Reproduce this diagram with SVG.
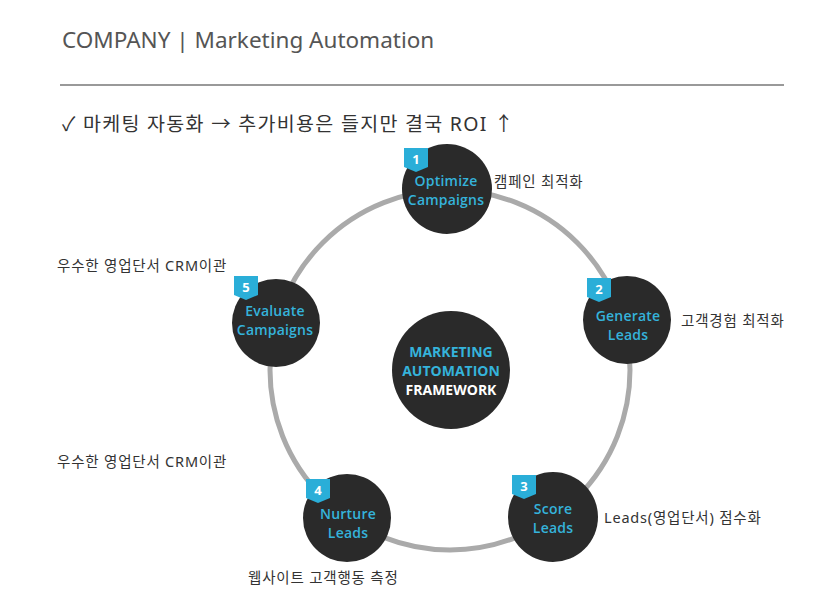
<svg xmlns="http://www.w3.org/2000/svg" width="835" height="600" viewBox="0 0 835 600">
<style>
.title{font-family:"Noto Sans","Noto Sans CJK KR",sans-serif;font-size:22.5px;fill:#555}
.sub{font-family:"Noto Sans","Noto Sans CJK KR",sans-serif;font-size:19.5px;letter-spacing:1.3px;fill:#333}
.note{font-family:"Noto Sans","Noto Sans CJK KR",sans-serif;font-size:14.5px;letter-spacing:0.8px;fill:#333}
.disc{fill:#2a2a2a}
.lbl{font-family:"Open Sans","Noto Sans",sans-serif;font-size:14px;font-weight:600;letter-spacing:0.2px;fill:#35b3db;text-anchor:middle}
.num{font-family:"Open Sans","Noto Sans",sans-serif;font-size:13px;font-weight:700;fill:#fff;text-anchor:middle}
.badge{fill:#2aaed8}
.ctr{font-family:"Open Sans","Noto Sans",sans-serif;font-size:14px;font-weight:700;text-anchor:middle}
</style>
<defs>
<path id="bdg" d="M0,0 H24 V19 L12,24 L0,19 Z"/>
</defs>
<rect width="835" height="600" fill="#fff"/>
<text class="title" x="62" y="48">COMPANY | Marketing Automation</text>
<line x1="60" y1="85" x2="784" y2="85" stroke="#999" stroke-width="2"/>
<text class="sub" x="62" y="131">✓ 마케팅 자동화 → 추가비용은 들지만 결국 ROI ↑</text>
<g id="connectors">
<circle cx="450" cy="370" r="180" fill="none" stroke="#aaa" stroke-width="5"/>
</g>
<g id="center">
<circle class="disc" cx="451" cy="370" r="59"/>
<text class="ctr" x="451" y="357"><tspan fill="#35b3db">MARKETING</tspan><tspan x="451" dy="19" fill="#35b3db">AUTOMATION</tspan><tspan x="451" dy="19" fill="#fff">FRAMEWORK</tspan></text>
</g>
<g id="node1">
<circle class="disc" cx="447" cy="189" r="45"/>
<use href="#bdg" x="404" y="148" class="badge"/>
<text class="num" x="416" y="164">1</text>
<text class="lbl" x="446" y="186">Optimize<tspan x="446" dy="18.5">Campaigns</tspan></text>
</g>
<g id="node2">
<circle class="disc" cx="627" cy="320" r="44"/>
<use href="#bdg" x="587" y="278" class="badge"/>
<text class="num" x="599" y="294">2</text>
<text class="lbl" x="628" y="321">Generate<tspan x="628" dy="18.5">Leads</tspan></text>
</g>
<g id="node3">
<circle class="disc" cx="553" cy="517" r="45"/>
<use href="#bdg" x="512" y="475" class="badge"/>
<text class="num" x="524" y="491">3</text>
<text class="lbl" x="553" y="514">Score<tspan x="553" dy="18.5">Leads</tspan></text>
</g>
<g id="node4">
<circle class="disc" cx="347" cy="518" r="44"/>
<use href="#bdg" x="306" y="479" class="badge"/>
<text class="num" x="318" y="495">4</text>
<text class="lbl" x="348" y="519">Nurture<tspan x="348" dy="18.5">Leads</tspan></text>
</g>
<g id="node5">
<circle class="disc" cx="276" cy="323" r="44"/>
<use href="#bdg" x="234" y="276" class="badge"/>
<text class="num" x="246" y="292">5</text>
<text class="lbl" x="275" y="316">Evaluate<tspan x="275" dy="18.5">Campaigns</tspan></text>
</g>
<g id="notes">
<text class="note" x="494" y="187">캠페인 최적화</text>
<text class="note" x="681" y="326">고객경험 최적화</text>
<text class="note" x="604" y="523">Leads(영업단서) 점수화</text>
<text class="note" x="248" y="583">웹사이트 고객행동 측정</text>
<text class="note" x="57" y="271">우수한 영업단서 CRM이관</text>
<text class="note" x="57" y="467">우수한 영업단서 CRM이관</text>
</g>
</svg>
